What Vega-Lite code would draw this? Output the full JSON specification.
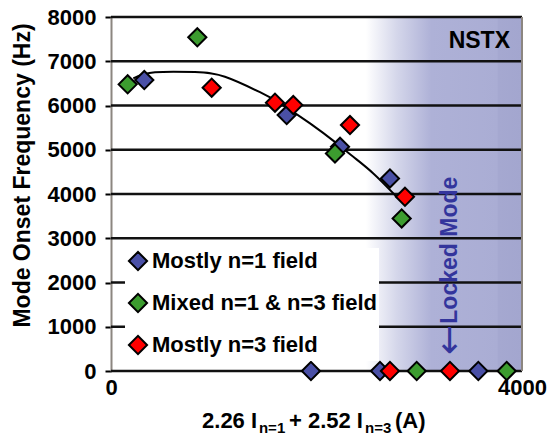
{
  "$schema": "https://vega.github.io/schema/vega-lite/v6.json",
  "width": 411,
  "height": 354,
  "autosize": "none",
  "padding": {"left": 111, "top": 17, "right": 29, "bottom": 66},
  "background": "white",
  "config": {
    "view": {"stroke": null},
    "font": "Liberation Sans"
  },
  "datasets": {
    "pts": [
      {"x": 324, "y": 6576, "group": "Mostly n=1 field"},
      {"x": 1710, "y": 5784, "group": "Mostly n=1 field"},
      {"x": 2229, "y": 5067, "group": "Mostly n=1 field"},
      {"x": 2715, "y": 4352, "group": "Mostly n=1 field"},
      {"x": 1946, "y": 0, "group": "Mostly n=1 field"},
      {"x": 2618, "y": 0, "group": "Mostly n=1 field"},
      {"x": 3575, "y": 0, "group": "Mostly n=1 field"},
      {"x": 162, "y": 6478, "group": "Mixed n=1 & n=3 field"},
      {"x": 840, "y": 7541, "group": "Mixed n=1 & n=3 field"},
      {"x": 2180, "y": 4917, "group": "Mixed n=1 & n=3 field"},
      {"x": 2829, "y": 3447, "group": "Mixed n=1 & n=3 field"},
      {"x": 2975, "y": 0, "group": "Mixed n=1 & n=3 field"},
      {"x": 3851, "y": 0, "group": "Mixed n=1 & n=3 field"},
      {"x": 980, "y": 6402, "group": "Mostly n=3 field"},
      {"x": 1596, "y": 6063, "group": "Mostly n=3 field"},
      {"x": 1774, "y": 6010, "group": "Mostly n=3 field"},
      {"x": 2326, "y": 5558, "group": "Mostly n=3 field"},
      {"x": 2861, "y": 3936, "group": "Mostly n=3 field"},
      {"x": 2715, "y": 0, "group": "Mostly n=3 field"},
      {"x": 3299, "y": 0, "group": "Mostly n=3 field"}
    ],
    "fit": [
      {"x": 217, "y": 6614},
      {"x": 428, "y": 6750},
      {"x": 817, "y": 6755},
      {"x": 1109, "y": 6650},
      {"x": 1450, "y": 6300},
      {"x": 1645, "y": 6049},
      {"x": 1937, "y": 5596},
      {"x": 2197, "y": 5144},
      {"x": 2358, "y": 4841},
      {"x": 2553, "y": 4465},
      {"x": 2748, "y": 4013},
      {"x": 2780, "y": 3935}
    ],
    "grid": [
      {"y": 0}, {"y": 1000}, {"y": 2000}, {"y": 3000}, {"y": 4000},
      {"y": 5000}, {"y": 6000}, {"y": 7000}, {"y": 8000}
    ],
    "shade": [
      {"x": 2480, "x2": 4000, "y": 0, "y2": 8000}
    ]
  },
  "layer": [
    {
      "data": {"name": "shade"},
      "mark": {
        "type": "rect",
        "fill": {
          "gradient": "linear", "x1": 0, "x2": 1, "y1": 0, "y2": 0,
          "stops": [
            {"offset": 0, "color": "#ffffff"},
            {"offset": 0.2, "color": "#d4d6ea"},
            {"offset": 0.42, "color": "#aeb1d7"},
            {"offset": 0.84, "color": "#aaadd4"},
            {"offset": 0.85, "color": "#a5a8d0"},
            {"offset": 1, "color": "#a3a6cf"}
          ]
        }
      },
      "encoding": {
        "x": {"field": "x", "type": "quantitative", "scale": {"domain": [0, 4000], "nice": false},
          "axis": {"values": [0, 4000], "format": "d", "title": null, "ticks": false, "domain": false, "grid": false,
            "labelFont": "Liberation Sans", "labelFontWeight": "bold", "labelFontSize": 22,
            "labelColor": "black", "labelPadding": 6, "labelFlush": false}},
        "x2": {"field": "x2"},
        "y": {"field": "y", "type": "quantitative", "scale": {"domain": [0, 8000], "nice": false},
          "axis": {"values": [0, 1000, 2000, 3000, 4000, 5000, 6000, 7000, 8000], "format": "d", "title": "Mode Onset Frequency (Hz)",
            "grid": false, "domainColor": "#8c8680", "domainWidth": 2, "tickColor": "black", "tickWidth": 2, "tickSize": 6,
            "labelFont": "Liberation Sans", "labelFontWeight": "bold", "labelFontSize": 22, "labelColor": "black",
            "labelPadding": 9,
            "titleFont": "Liberation Sans", "titleFontWeight": "bold", "titleFontSize": 23, "titleColor": "black",
            "titleX": -89, "titleY": 158, "titleAlign": "center", "titleBaseline": "middle", "titleAngle": 270}},
        "y2": {"field": "y2"}
      }
    },
    {
      "data": {"name": "grid"},
      "mark": {"type": "rule", "color": "#111111", "strokeWidth": 2.5},
      "encoding": {"y": {"field": "y", "type": "quantitative"}}
    },
    {
      "data": {"values": [{}]},
      "mark": {"type": "rule", "color": "#8c8680", "strokeWidth": 2},
      "encoding": {"x": {"datum": 4000, "type": "quantitative"}}
    },
    {
      "data": {"name": "fit"},
      "mark": {"type": "line", "color": "black", "strokeWidth": 2, "interpolate": "natural"},
      "encoding": {
        "x": {"field": "x", "type": "quantitative"},
        "y": {"field": "y", "type": "quantitative"}
      }
    },
    {
      "data": {"name": "pts"},
      "mark": {"type": "point", "shape": "diamond", "filled": true, "size": 330, "stroke": "black", "strokeWidth": 2, "opacity": 1},
      "encoding": {
        "x": {"field": "x", "type": "quantitative"},
        "y": {"field": "y", "type": "quantitative"},
        "color": {"field": "group", "type": "nominal",
          "scale": {"domain": ["Mostly n=1 field", "Mixed n=1 & n=3 field", "Mostly n=3 field"],
                    "range": ["#4a50a6", "#3c9c2f", "#ff0000"]},
          "legend": {"orient": "none", "legendX": 14, "legendY": 231, "fillColor": "white", "padding": 2,
            "title": null, "labelFont": "Liberation Sans", "labelFontWeight": "bold", "labelFontSize": 22,
            "labelColor": "black", "symbolType": "diamond", "symbolSize": 330, "symbolStrokeColor": "black",
            "symbolStrokeWidth": 2, "symbolOpacity": 1, "rowPadding": 14, "labelOffset": 3, "labelLimit": 0}}
      }
    },
    {
      "data": {"values": [{}]},
      "mark": {"type": "text", "text": "NSTX", "align": "right", "baseline": "alphabetic", "font": "Liberation Sans", "fontWeight": "bold", "fontSize": 23, "color": "black"},
      "encoding": {"x": {"datum": 3883, "type": "quantitative"}, "y": {"datum": 7293, "type": "quantitative"}}
    },
    {
      "data": {"values": [{}]},
      "mark": {"type": "text", "text": "Locked Mode", "align": "center", "baseline": "middle", "angle": 270, "font": "Liberation Sans", "fontWeight": "bold", "fontSize": 23, "color": "#33359c"},
      "encoding": {"x": {"datum": 3299, "type": "quantitative"}, "y": {"datum": 2730, "type": "quantitative"}}
    },
    {
      "data": {"values": [{}]},
      "mark": {"type": "text", "text": "←", "align": "center", "baseline": "middle", "angle": 270, "font": "DejaVu Sans", "fontWeight": "normal", "fontSize": 36, "color": "#33359c"},
      "encoding": {"x": {"datum": 3299, "type": "quantitative"}, "y": {"datum": 700, "type": "quantitative"}}
    },
    {
      "data": {"values": [{}]},
      "mark": {"type": "text", "text": "2.26 I", "align": "left", "baseline": "alphabetic", "font": "Liberation Sans", "fontWeight": "bold", "fontSize": 22, "color": "black"},
      "encoding": {"x": {"datum": 886, "type": "quantitative"}, "y": {"datum": -1290, "type": "quantitative"}}
    },
    {
      "data": {"values": [{}]},
      "mark": {"type": "text", "text": "n=1", "align": "left", "baseline": "alphabetic", "font": "Liberation Sans", "fontWeight": "bold", "fontSize": 15, "color": "black"},
      "encoding": {"x": {"datum": 1440, "type": "quantitative"}, "y": {"datum": -1400, "type": "quantitative"}}
    },
    {
      "data": {"values": [{}]},
      "mark": {"type": "text", "text": "+ 2.52 I", "align": "left", "baseline": "alphabetic", "font": "Liberation Sans", "fontWeight": "bold", "fontSize": 22, "color": "black"},
      "encoding": {"x": {"datum": 1732, "type": "quantitative"}, "y": {"datum": -1290, "type": "quantitative"}}
    },
    {
      "data": {"values": [{}]},
      "mark": {"type": "text", "text": "n=3", "align": "left", "baseline": "alphabetic", "font": "Liberation Sans", "fontWeight": "bold", "fontSize": 15, "color": "black"},
      "encoding": {"x": {"datum": 2472, "type": "quantitative"}, "y": {"datum": -1400, "type": "quantitative"}}
    },
    {
      "data": {"values": [{}]},
      "mark": {"type": "text", "text": "(A)", "align": "left", "baseline": "alphabetic", "font": "Liberation Sans", "fontWeight": "bold", "fontSize": 22, "color": "black"},
      "encoding": {"x": {"datum": 2764, "type": "quantitative"}, "y": {"datum": -1290, "type": "quantitative"}}
    }
  ]
}
